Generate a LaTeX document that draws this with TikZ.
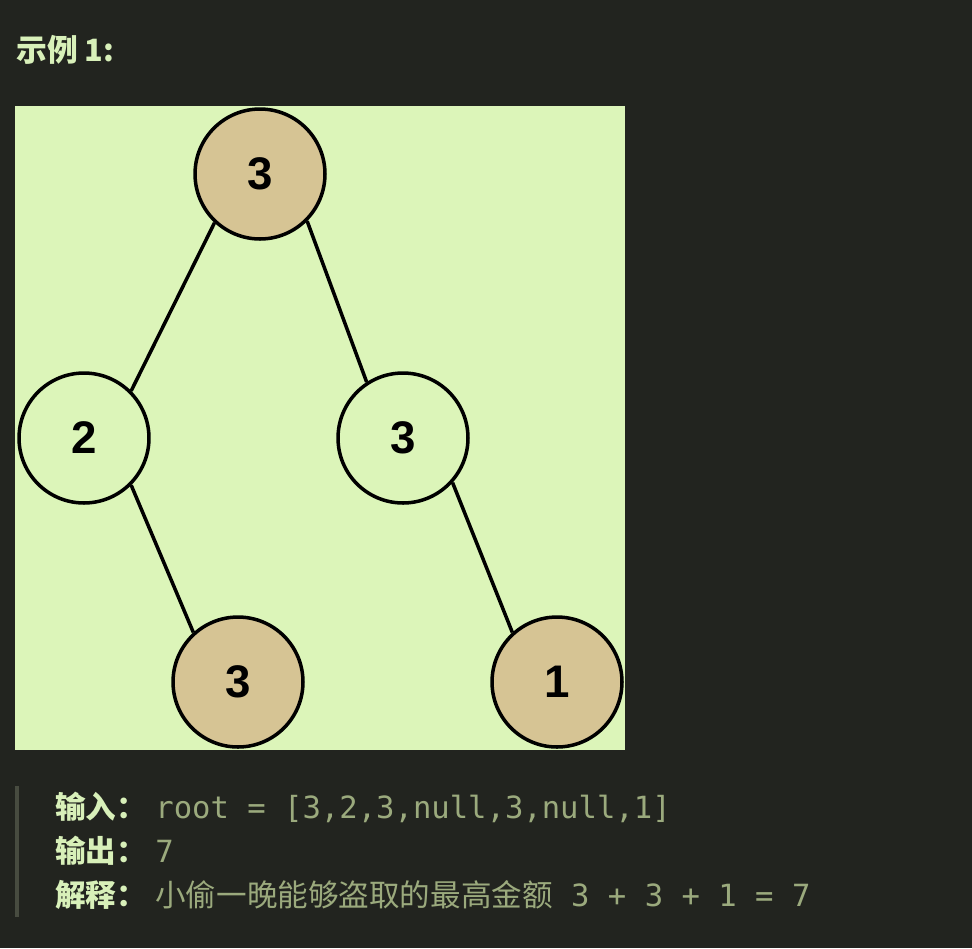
\documentclass[tikz,border=0pt]{standalone}
\usepackage{fontspec}
\setmainfont{Liberation Sans}
\setmonofont{DejaVu Sans Mono}
\newfontfamily\cjk{Noto Sans CJK SC}
\definecolor{pagebg}{RGB}{34,36,31}
\definecolor{panelbg}{RGB}{220,245,185}
\definecolor{robbed}{RGB}{214,196,148}
\definecolor{labelgreen}{RGB}{216,240,185}
\definecolor{valuegreen}{RGB}{155,170,125}
\definecolor{quotebar}{RGB}{72,76,64}
\begin{document}
\begin{tikzpicture}[x=0.02cm, y=-0.02cm, font=\bfseries\fontsize{26}{26}\selectfont]
        \tikzset{tnode/.style={circle, draw, line width=2pt, minimum size=2.6cm, inner sep=0pt, fill=panelbg},
                 rnode/.style={tnode, fill=robbed},
                 link/.style={line width=2pt},
                 txt/.style={anchor=base west, inner sep=0pt, font=\fontsize{17.4}{17.4}\selectfont}}
        \fill[pagebg] (0,0) rectangle (972,948);
        \fill[panelbg] (15,106) rectangle (625,750);
        \node[txt, text=labelgreen, font=\cjk\bfseries\fontsize{17.5}{17.5}\selectfont] (title) at (16,61) {示例 1:};
        % the tree
        \node[rnode] (root) at (260,174) {3};
        \node[tnode] (l) at (84,438) {2};
        \node[tnode] (r) at (403,438) {3};
        \node[rnode] (lr) at (238,682) {3};
        \node[rnode] (rr) at (557,682) {1};
        \draw[link] (root.227) -- (l.45);
        \draw[link] (root.315) -- (r.123);
        \draw[link] (l.315) -- (lr.132);
        \draw[link] (r.318) -- (rr.132);
        % explanation block
        \fill[quotebar] (15,786) rectangle (19,917);
        \node[txt, text=labelgreen] (inlab) at (55,818) {\cjk\bfseries 输入：};
        \node[txt, text=valuegreen] (inval) at (155,818) {\ttfamily root = [3,2,3,null,3,null,1]};
        \node[txt, text=labelgreen] (outlab) at (55,862) {\cjk\bfseries 输出：};
        \node[txt, text=valuegreen] (outval) at (155,862) {\ttfamily 7};
        \node[txt, text=labelgreen] (exlab) at (55,906) {\cjk\bfseries 解释：};
        \node[txt, text=valuegreen] (exval) at (155,906) {\ttfamily{\cjk 小偷一晚能够盗取的最高金额} 3 + 3 + 1 = 7};
\end{tikzpicture}
\end{document}
